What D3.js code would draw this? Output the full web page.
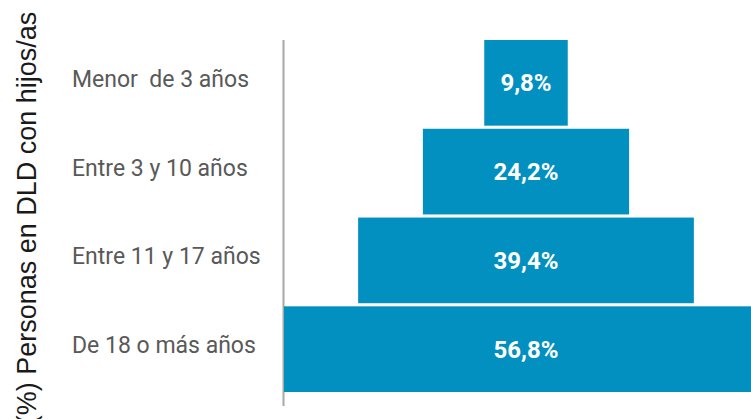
<!DOCTYPE html>
<html><head><meta charset="utf-8">
<script src="https://cdn.jsdelivr.net/npm/d3@7"></script>
<style>body{margin:0;background:#fff;overflow:hidden}</style>
</head><body><svg id="c" width="751" height="419"></svg>
<script>
const categories = ["Menor  de 3 años", "Entre 3 y 10 años", "Entre 11 y 17 años", "De 18 o más años"];
const values = [9.8, 24.2, 39.4, 56.8];
const valueLabels = ["9,8%", "24,2%", "39,4%", "56,8%"];
const axisTitle = "(%) Personas en DLD con hijos/as";

const svg = d3.select("#c");
const cx = 526;
const y = d3.scaleBand().domain(categories).range([40, 392]).paddingInner(0.035).paddingOuter(0.0);
const w = d3.scaleLinear().domain([0, 56.8]).range([0, 484]);

svg.append("line").attr("x1", 283.5).attr("x2", 283.5).attr("y1", 40).attr("y2", 406)
  .attr("stroke", "#a8a8a8").attr("stroke-width", 2);

const g = svg.append("g");
g.selectAll("rect").data(values).join("rect")
  .attr("x", d => cx - w(d) / 2)
  .attr("width", d => w(d))
  .attr("y", (d, i) => y(categories[i]))
  .attr("height", y.bandwidth())
  .attr("fill", "#0290C0");

g.selectAll("text.v").data(values).join("text").attr("class", "v")
  .attr("x", cx)
  .attr("y", (d, i) => y(categories[i]) + y.bandwidth() / 2)
  .attr("dy", "0.35em")
  .attr("text-anchor", "middle")
  .attr("fill", "#fff")
  .style("font-family", "Roboto, sans-serif")
  .style("font-weight", "bold")
  .style("font-size", "24px")
  .text((d, i) => valueLabels[i]);

svg.selectAll("text.c").data(categories).join("text").attr("class", "c")
  .attr("x", 72)
  .attr("y", d => y(d) + y.bandwidth() / 2 + 4)
  .attr("fill", "#595959")
  .style("font-family", "Roboto, sans-serif")
  .style("font-size", "23px")
  .style("white-space", "pre")
  .attr("xml:space", "preserve")
  .text(d => d);

svg.append("text")
  .attr("transform", "translate(36,218) rotate(-90)")
  .attr("text-anchor", "middle")
  .attr("fill", "#1a1a1a")
  .style("font-family", "'Liberation Sans', Arial, sans-serif")
  .style("font-size", "27px")
  .text(axisTitle);
</script></body></html>
